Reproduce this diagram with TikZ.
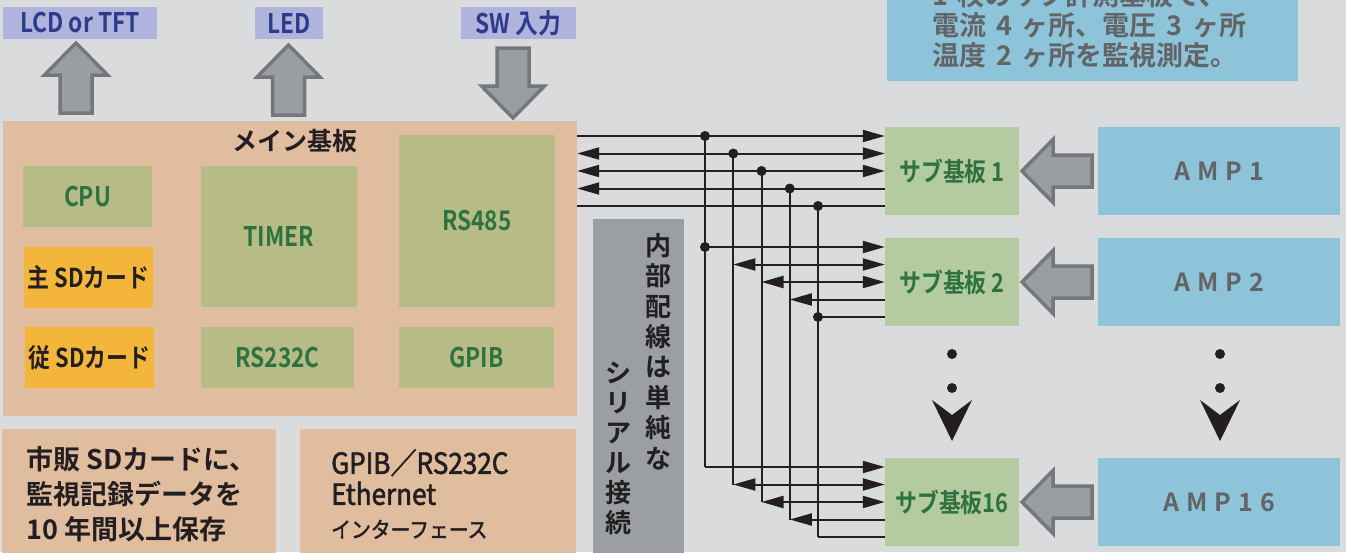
\documentclass[tikz,border=0pt]{standalone}
\usepackage{fontspec}
\setmainfont{Noto Sans CJK JP}[BoldFont={Noto Sans CJK JP Bold}]
\newfontfamily\condfont{Noto Sans CJK JP}[FakeStretch=0.84,BoldFont={Noto Sans CJK JP Bold}]
\newfontfamily\medfont{Noto Sans CJK JP}[FakeStretch=0.9,FakeBold=2]
\newfontfamily\widefont{Noto Sans CJK JP}[WordSpace=1.6,BoldFont={Noto Sans CJK JP Bold}]
\newfontfamily\ampfont{Noto Sans CJK JP}[LetterSpace=28,BoldFont={Noto Sans CJK JP Bold}]
\usetikzlibrary{arrows.meta}

\definecolor{paper}{RGB}{218,219,221}
\definecolor{tagbg}{RGB}{176,179,219}
\definecolor{tagink}{RGB}{46,58,140}
\definecolor{boardbg}{RGB}{225,189,160}
\definecolor{chipbg}{RGB}{183,187,133}
\definecolor{chipink}{RGB}{46,114,66}
\definecolor{cardbg}{RGB}{244,182,58}
\definecolor{ink}{RGB}{35,31,32}
\definecolor{subbg}{RGB}{179,203,159}
\definecolor{ampbg}{RGB}{141,196,218}
\definecolor{ampink}{RGB}{99,100,102}
\definecolor{arrowbg}{RGB}{154,158,162}
\definecolor{arrowrim}{RGB}{118,119,123}
\definecolor{notebg}{RGB}{155,158,163}

\newcommand{\pxfont}[2]{\fontsize{#1}{#2}\selectfont}

\begin{document}
\begin{tikzpicture}[x=1pt,y=-1pt,
    tag/.style={fill=tagbg,text=tagink,inner sep=0pt,minimum height=32,
      font=\condfont\bfseries\pxfont{27}{27}},
    chip/.style={fill=chipbg,text=chipink,inner sep=0pt,
      font=\condfont\bfseries\pxfont{27}{27}},
    card/.style={fill=cardbg,text=ink,inner sep=0pt,minimum width=129,minimum height=61,
      font=\condfont\bfseries\pxfont{26}{26}},
    subboard/.style={fill=subbg,text=chipink,inner sep=0pt,minimum width=134,minimum height=88,
      font=\condfont\bfseries\pxfont{26}{26}},
    amp/.style={fill=ampbg,text=ampink,inner sep=0pt,minimum width=242,minimum height=88,
      font=\ampfont\bfseries\pxfont{25}{25}},
    memo/.style={fill=boardbg,inner sep=0pt,minimum width=274,minimum height=131},
    fat/.style={fill=arrowbg,draw=arrowrim,line width=3.5pt,line join=miter},
    wire/.style={line width=2pt,draw=ink},
    tx/.style={-{Triangle[length=22pt,width=12pt]}},
    rx/.style={{Triangle[length=22pt,width=12pt]}-},
    duplex/.style={{Triangle[length=22pt,width=12pt]}-{Triangle[length=22pt,width=12pt]}},
    plain/.style={-},
    uparrow/.pic={\draw[fat] (0,0) -- (31.5,32) -- (16,32) -- (16,70)
      -- (-16,70) -- (-16,32) -- (-31.5,32) -- cycle;},
    leftarrow/.pic={\draw[fat] (0,0) -- (31,-31.5) -- (31,-16) -- (70,-16)
      -- (70,16) -- (31,16) -- (31,31.5) -- cycle;},
    chevron/.pic={\fill[ink] (0,0) -- (-20,-41) -- (0,-26) -- (20,-41) -- cycle;}
  ]
  \useasboundingbox (0,0) rectangle (1346,552);
  \clip (0,0) rectangle (1346,552);
  \fill[paper] (0,0) rectangle (1346,552);

  % outside world
  \node[tag,minimum width=154] (lcd) at (80,23) {LCD or TFT};
  \node[tag,minimum width=68] (led) at (289,23) {LED};
  \node[tag,minimum width=115] (sw) at (518.5,23) {SW 入力};
  \pic at (76,43) {uparrow};
  \pic at (288.5,45) {uparrow};
  \pic[yscale=-1] at (513,118) {uparrow};

  % main board
  \node[fill=boardbg,minimum width=574,minimum height=295,inner sep=0pt] (main) at (290,268.5) {};
  \node[text=ink,font=\bfseries\pxfont{25}{25}] (maintitle) at (295,141) {メイン基板};
  \node[chip,minimum width=129,minimum height=61] (cpu) at (87.5,196.5) {CPU};
  \node[card] (sdmain) at (88.5,277.5) {主 SDカード};
  \node[card] (sdsub) at (89.5,357.5) {従 SDカード};
  \node[chip,minimum width=156,minimum height=141] (timer) at (279,236.5) {TIMER};
  \node[chip,minimum width=156,minimum height=172] (rs485) at (477,221) {RS485};
  \node[chip,minimum width=153,minimum height=61] (rs232c) at (277.5,357.5) {RS232C};
  \node[chip,minimum width=155,minimum height=61] (gpib) at (476.5,357.5) {GPIB};

  % notes below the board
  \node[memo] (sdnote) at (139,494.5) {};
  \node[anchor=west,align=left,text=ink,font=\bfseries\pxfont{27}{35},inner sep=0pt]
    (sdtext) at (26,494) {市販 SDカードに、\\監視記録データを\\10 年間以上保存};
  \node[memo,minimum width=276] (ifnote) at (438,494.5) {};
  \node[anchor=west,align=left,text=ink,font=\medfont\pxfont{29}{31},inner sep=0pt]
    (iftext) at (331,494) {GPIB／RS232C\\Ethernet\\[2pt]\pxfont{22}{31}インターフェース};

  % serial note
  \node[fill=notebg,minimum width=91,minimum height=341,inner sep=0pt] (serial) at (638.5,389.5) {};
  \node[align=center,text=ink,font=\bfseries\pxfont{26}{30.4},inner sep=0pt]
    (serialR) at (658,351.5) {内\\部\\配\\線\\は\\単\\純\\な};
  \node[align=center,text=ink,font=\bfseries\pxfont{26}{30},inner sep=0pt]
    (serialL) at (618,448) {シ\\リ\\ア\\ル\\接\\続};

  % spec note
  \node[fill=ampbg,minimum width=411,minimum height=101,inner sep=0pt] (spec) at (1092.5,30.5) {};
  \node[anchor=west,align=left,text=ampink,font=\widefont\bfseries\pxfont{27}{30},inner sep=0pt]
    (spectext) at (932,25) {1 枚のサブ計測基板で、\\電流 4 ヶ所、電圧 3 ヶ所\\温度 2 ヶ所を監視測定。};

  % sub boards and amplifiers
  \node[subboard] (sub1) at (952,171) {サブ基板 1};
  \node[subboard] (sub2) at (952,282) {サブ基板 2};
  \node[subboard] (sub16) at (952,502) {サブ基板16};
  \node[amp] (amp1) at (1219,171) {AMP1};
  \node[amp] (amp2) at (1219,282) {AMP2};
  \node[amp] (amp16) at (1219,502) {AMP16};
  \pic at (1022,171) {leftarrow};
  \pic at (1022,282) {leftarrow};
  \pic at (1022,502) {leftarrow};

  % more boards
  \foreach \x in {952,1220} {
    \fill[ink] (\x,354) circle (5);
    \fill[ink] (\x,388) circle (5);
    \pic at (\x,441) {chevron};
  }

  % serial bus
  \foreach \k/\wire in {1/tx,2/duplex,3/duplex,4/rx,5/plain} {
    \coordinate (b\k) at ({705+28.25*(\k-1)},{171+17.5*(\k-3)});
    \coordinate (m\k) at ({705+28.25*(\k-1)},{282+17.5*(\k-3)});
    \coordinate (e\k) at ({705+28.25*(\k-1)},{502+17.5*(\k-3)});
    \draw[wire] (b\k) -- (e\k);
    \draw[wire,\wire] (main.east |- b\k) -- (sub1.west |- b\k);
    \draw[wire,\wire] (m\k) -- (sub2.west |- m\k);
    \draw[wire,\wire] (e\k) -- (sub16.west |- e\k);
    \fill[ink] (b\k) circle (5);
  }
  \fill[ink] (m1) circle (5);
  \fill[ink] (m5) circle (5);
\end{tikzpicture}
\end{document}
